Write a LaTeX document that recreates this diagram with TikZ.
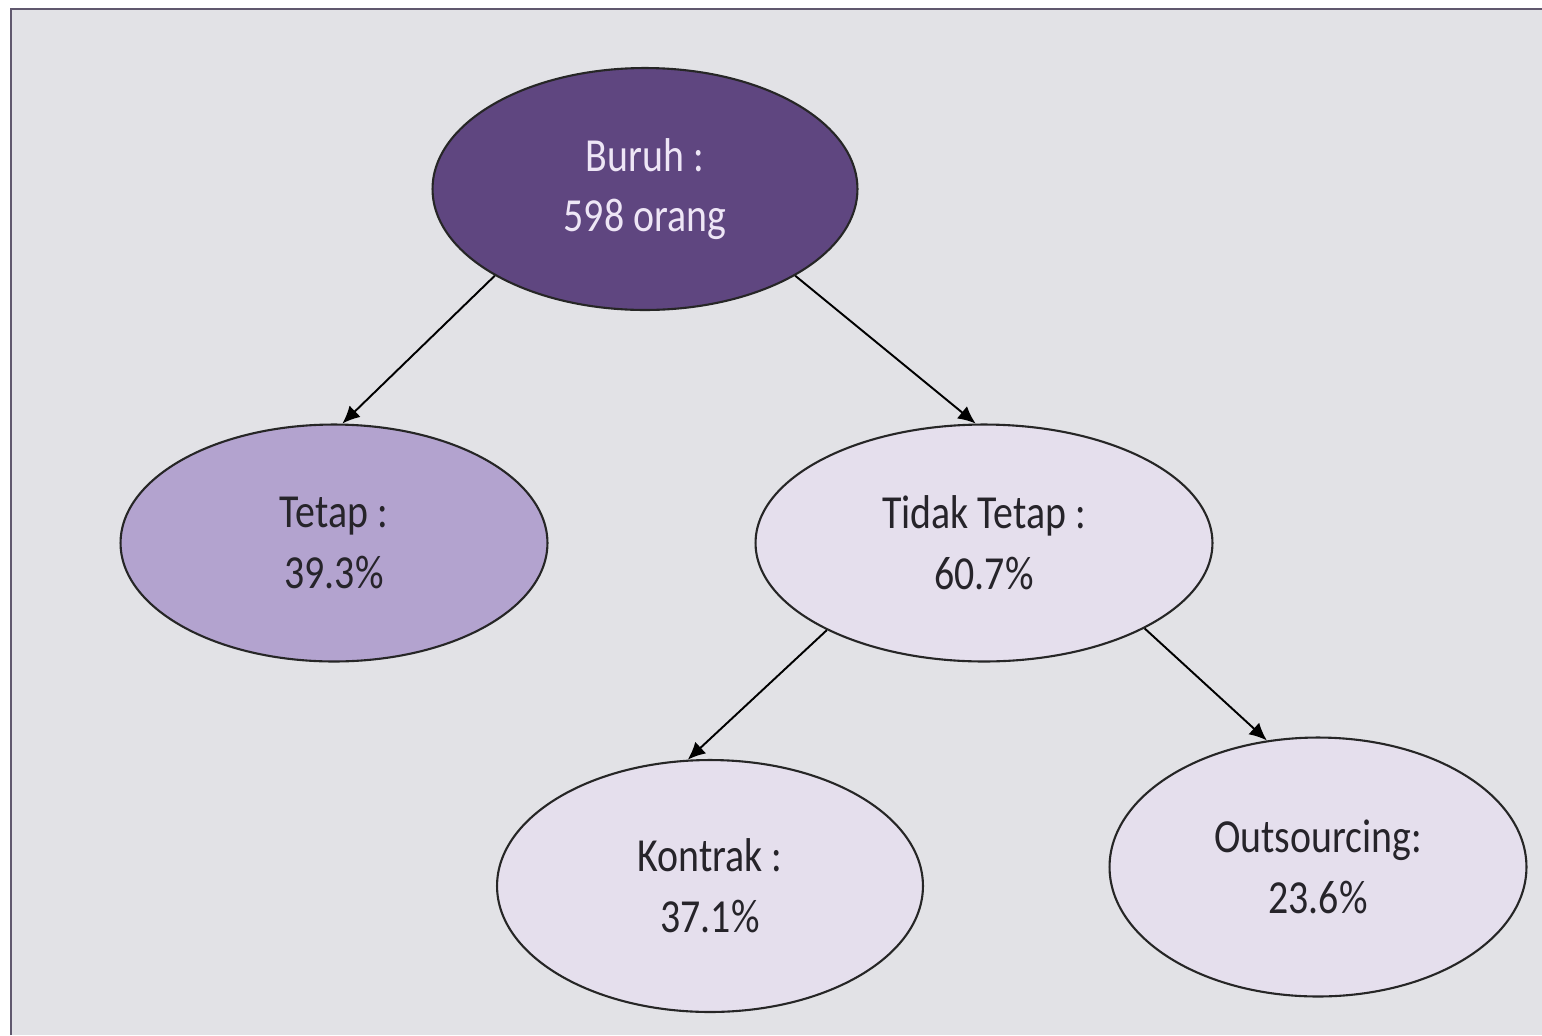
\documentclass[tikz,border=0pt]{standalone}
\usepackage{fontspec}
\setmainfont{Carlito}[FakeStretch=0.84]
\usetikzlibrary{shapes.geometric, arrows.meta}
\definecolor{marble}{RGB}{226,226,230}
\definecolor{framegrey}{RGB}{96,88,110}
\definecolor{rootfill}{RGB}{95,70,128}
\definecolor{rootText}{RGB}{238,230,246}
\definecolor{midfill}{RGB}{179,163,207}
\definecolor{leaffill}{RGB}{229,223,237}
\definecolor{inktext}{RGB}{38,36,42}
\tikzset{
  blob/.style={ellipse, draw=black!85, line width=1.2pt, inner sep=0pt,
    align=center, font=\fontsize{27}{34.5}\selectfont, text=inktext},
  rootblob/.style={blob, fill=rootfill, text=rootText},
  tetapblob/.style={blob, fill=midfill},
  leafblob/.style={blob, fill=leaffill},
}
\begin{document}
\begin{tikzpicture}[x=0.02cm, y=-0.02cm, >={Latex[length=10pt,width=9pt]}]
\useasboundingbox (0,0) rectangle (1542,1035);
\fill[white] (0,0) rectangle (1542,1035);
\fill[marble] (11,9) rectangle (1542,1035);
\draw[framegrey, line width=1.7pt] (11,1035) -- (11,9) -- (1542,9);
\node[rootblob, minimum width=8.5cm, minimum height=4.84cm] (buruh) at (645,189) {Buruh :\\598 orang};
\node[tetapblob, minimum width=8.54cm, minimum height=4.74cm] (tetap) at (334,543) {Tetap :\\39.3\%};
\node[leafblob, minimum width=9.14cm, minimum height=4.74cm] (tidak) at (984,543) {Tidak Tetap :\\60.7\%};
\node[leafblob, minimum width=8.52cm, minimum height=5.04cm] (kontrak) at (710,886) {Kontrak :\\37.1\%};
\node[leafblob, minimum width=8.34cm, minimum height=5.18cm] (outsrc) at (1318,867) {Outsourcing:\\23.6\%};
\draw[->, line width=1.1pt] (buruh.210) -- (tetap.86);
\draw[->, line width=1.1pt] (buruh.330) -- (tidak.94);
\draw[->, line width=1.1pt] (tidak.209) -- (kontrak.100);
\draw[->, line width=1.1pt] (tidak.332) -- (outsrc.112);
\end{tikzpicture}
\end{document}
